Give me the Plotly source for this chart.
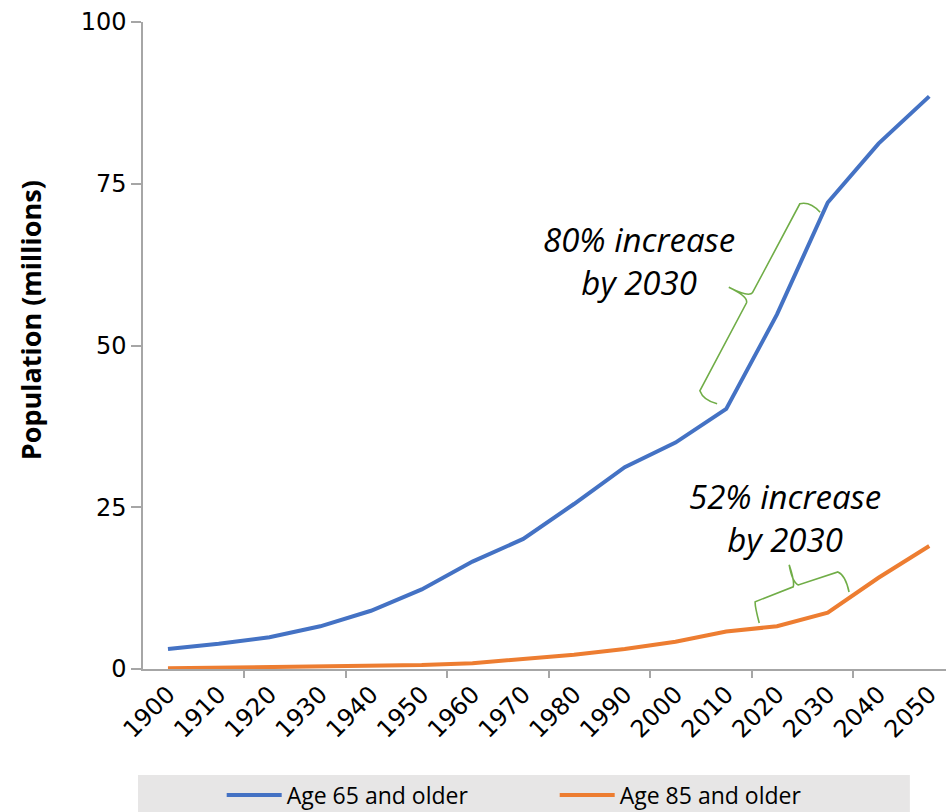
import plotly.graph_objects as go

# Decades on the horizontal axis
years = [1900, 1910, 1920, 1930, 1940, 1950, 1960, 1970,
         1980, 1990, 2000, 2010, 2020, 2030, 2040, 2050]
tick_labels = [str(y) for y in years]

# Population in millions
age65_plus = [3.1, 3.9, 4.9, 6.6, 9.0, 12.3, 16.6, 20.1,
              25.5, 31.2, 35.0, 40.2, 54.8, 72.1, 81.2, 88.5]
age85_plus = [0.1, 0.2, 0.2, 0.3, 0.4, 0.6, 0.9, 1.5,
              2.2, 3.1, 4.2, 5.8, 6.6, 8.7, 14.1, 19.0]

BLUE = "#4472C4"
ORANGE = "#ED7D31"
GREEN = "#70AD47"
AXIS = "#A6A6A6"

fig = go.Figure()
fig.add_trace(go.Scatter(x=years, y=age65_plus, mode="lines",
                         name="Age 65 and older",
                         line=dict(color=BLUE, width=4)))
fig.add_trace(go.Scatter(x=years, y=age85_plus, mode="lines",
                         name="Age 85 and older",
                         line=dict(color=ORANGE, width=4)))

# Curly braces marking the growth up to 2030
brace65 = ("M 2028.5,70.6 Q 2026.5,72.3 2024.5,71.9 L 2015.2,58.2 "
           "Q 2014.5,57.4 2010.5,59.0 Q 2014.3,57.6 2014.0,56.6 "
           "L 2004.8,43.0 Q 2005.5,41.5 2008.2,41.0")
brace85 = ("M 2016.5,7.1 Q 2015.6,9.8 2015.7,10.4 L 2023.2,12.7 "
           "Q 2023.5,13.5 2022.4,16.1 Q 2023.0,13.4 2024.2,13.0 "
           "L 2032.0,15.0 Q 2033.5,14.5 2034.2,11.9")
for p in (brace65, brace85):
    fig.add_shape(type="path", path=p, xref="x", yref="y",
                  line=dict(color=GREEN, width=1.6))

ann_font = dict(family="Open Sans", size=33, color="#000000")
fig.add_annotation(x=1992.8, y=63.0, xref="x", yref="y",
                   text="<i>80% increase<br>by 2030</i>", showarrow=False,
                   font=ann_font, align="center")
fig.add_annotation(x=2021.5, y=23.3, xref="x", yref="y",
                   text="<i>52% increase<br>by 2030</i>", showarrow=False,
                   font=ann_font, align="center")

# Vertical axis title
fig.add_annotation(x=-0.1407, y=0.539, xref="paper", yref="paper",
                   text="<b>Population (millions)</b>", textangle=-90,
                   showarrow=False, xanchor="center", yanchor="middle",
                   font=dict(family="Open Sans", size=27, color="#000000"))

# Grey band behind the legend
fig.add_shape(type="rect", xref="paper", yref="paper",
              x0=-0.0062, x1=0.955, y0=-0.1638, y1=-0.23,
              fillcolor="#E7E6E6", line=dict(width=0), layer="below")

fig.update_layout(
    width=946, height=812,
    margin=dict(l=143, r=0, t=22, b=143),
    plot_bgcolor="white", paper_bgcolor="white",
    showlegend=True,
    legend=dict(orientation="h", x=0.098, xanchor="left",
                yref="container", y=0.021, yanchor="middle",
                bgcolor="rgba(0,0,0,0)",
                font=dict(family="Open Sans", size=23, color="#000000"),
                itemwidth=55, entrywidth=263),
    xaxis=dict(range=[1895.08, 2053.3], tickmode="array",
               tickvals=years, ticktext=tick_labels, tickangle=-45,
               ticks="", showgrid=False, zeroline=False, automargin=False,
               showline=True, linecolor=AXIS, linewidth=1.5,
               tickfont=dict(family="DejaVu Sans", size=24, color="#000000"),
               minor=dict(tickmode="array",
                          tickvals=[1895 + 20 * i for i in range(9)],
                          ticks="outside", ticklen=7, tickcolor=AXIS,
                          tickwidth=1.5, showgrid=False)),
    yaxis=dict(range=[0, 100], tickmode="array",
               tickvals=[0, 25, 50, 75, 100], ticks="outside",
               ticklen=10, tickcolor=AXIS, tickwidth=1.5,
               showgrid=False, zeroline=False, automargin=False,
               showline=True, linecolor=AXIS, linewidth=1.5,
               tickfont=dict(family="DejaVu Sans", size=24, color="#000000")),
)

fig.write_html("out.html")
